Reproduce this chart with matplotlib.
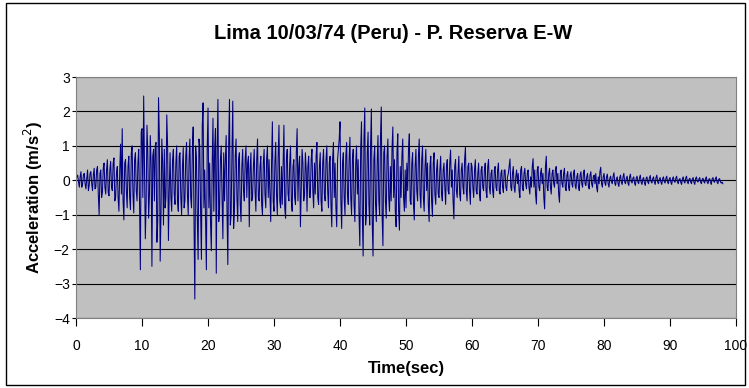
import numpy as np
import matplotlib.pyplot as plt
from matplotlib.patches import Rectangle

plt.rcParams['font.family'] = ['Liberation Sans', 'DejaVu Sans']

dt = 0.125  # sec between samples

# acceleration (m/s2) at whole quarter seconds, read in 5 s blocks
acc_00 = [0.0, 0.15, -0.2, 0.25, -0.1, 0.2, -0.25, 0.3, -0.15, 0.25,
          -0.3, 0.35, -0.2, 0.4, -1.0, 0.3, -0.35, 0.5, -0.4, 0.6]
acc_05 = [-0.45, 0.55, -0.3, 0.65, -0.5, 0.4, -0.9, 1.05, 1.5, -1.15,
          0.6, -0.8, 0.7, -0.85, 1.0, -0.95, 0.8, -0.6, 0.9, -2.6]
acc_10 = [1.5, 2.45, -1.7, 1.6, -1.1, 1.3, -2.5, 0.9, 1.0, -1.8,
          2.4, -2.35, 1.2, -1.3, -0.8, 1.9, -1.75, 0.8, -0.9, 0.9]
acc_15 = [-0.7, 1.0, -0.9, 0.8, -1.0, 0.95, -0.6, 1.1, -1.0, 1.2,
          -0.8, 1.55, -3.45, 0.6, -2.3, 1.0, -2.3, 2.25, 0.3, -2.6]
acc_20 = [2.1, 0.5, -2.05, 1.8, 0.9, -2.7, 2.35, -0.8, 1.0, -1.7,
          -0.6, 1.3, -2.45, 2.35, -1.0, 2.3, -0.9, 1.2, -1.2, 0.8]
acc_25 = [-1.2, 0.9, -0.6, 1.0, 0.5, -1.35, 0.8, -0.5, 0.9, -0.9,
          1.2, -0.6, 0.7, -1.0, 0.9, -0.8, 1.0, 0.6, -1.2, 1.7]
acc_30 = [-0.9, 1.1, -1.0, 1.6, -0.8, -0.7, 1.6, -1.1, 0.9, -0.6,
          1.0, -0.9, 0.6, -0.7, 1.5, 0.4, -1.35, 0.9, -0.6, 0.8]
acc_35 = [-0.9, 0.7, -0.5, 0.9, -0.8, -0.4, 1.1, -0.7, 0.8, -0.9,
          0.9, -0.6, 1.0, -0.8, 0.7, -1.35, 1.1, 0.5, -1.35, 0.9]
acc_40 = [1.7, -1.4, 0.8, -1.0, 1.1, -0.7, 1.25, -1.0, 0.9, -1.2,
          1.0, 0.6, -1.9, 1.7, -2.2, 2.1, -1.0, 1.4, -1.3, 2.07]
acc_45 = [-2.2, 1.0, -1.2, 1.3, -1.0, 2.13, -1.9, 1.0, -1.1, 1.2,
          -0.9, -0.6, 1.55, 0.6, -1.35, 1.35, -1.45, -0.5, 1.2, -0.9]
acc_50 = [-0.8, -0.3, 1.35, -0.7, 0.8, -1.15, 0.9, -0.6, 1.2, -0.8,
          1.0, -0.9, 0.9, 0.5, -1.2, 0.7, -1.05, 0.8, -0.7, 0.6]
acc_55 = [-0.5, 0.7, -0.6, 0.5, -0.7, 0.6, -0.4, 0.88, 0.3, -1.12,
          0.6, -0.5, 0.7, -0.6, 0.5, -0.4, 0.96, -0.6, 0.5, -0.7]
acc_60 = [0.4, -0.5, 0.6, -0.4, 0.5, -0.6, 0.4, -0.3, 0.5, -0.5,
          0.6, -0.4, 0.3, -0.5, 0.4, -0.3, 0.5, -0.4, 0.3, -0.35]
acc_65 = [0.3, -0.3, 0.2, 0.62, -0.3, 0.4, -0.35, 0.3, 0.2, -0.5,
          0.4, -0.3, 0.35, -0.25, 0.3, -0.4, -0.2, 0.63, 0.3, -0.69]
acc_70 = [0.4, -0.3, 0.35, 0.2, -0.83, 0.7, -0.3, 0.35, -0.4, 0.3,
          -0.2, 0.4, 0.2, -0.64, 0.3, -0.2, 0.35, -0.3, 0.25, -0.3]
acc_75 = [0.25, -0.2, 0.3, -0.25, 0.2, -0.3, 0.25, -0.2, 0.3, -0.15,
          0.2, -0.25, 0.25, -0.2, 0.15, 0.2, -0.34, -0.1, 0.38, -0.2]
acc_80 = [0.2, -0.15, 0.18, -0.2, 0.12, -0.1, 0.22, -0.15, 0.1, -0.18,
          0.15, -0.12, 0.2, -0.1, 0.12, -0.15, 0.18, -0.08, 0.1, -0.15]
acc_85 = [0.12, -0.1, 0.15, -0.12, 0.08, -0.15, 0.1, -0.1, 0.14, -0.08,
          0.1, -0.12, 0.15, -0.1, 0.08, -0.12, 0.1, -0.08, 0.12, -0.1]
acc_90 = [0.08, -0.12, 0.1, -0.06, 0.12, -0.1, 0.05, -0.12, 0.1, -0.08,
          0.12, -0.1, 0.06, -0.1, 0.08, -0.12, 0.1, -0.05, 0.08, -0.1]
acc_95 = [0.06, -0.08, 0.1, -0.1, 0.05, -0.12, 0.08, -0.06, 0.1, -0.1,
          0.05, -0.08, -0.1]

# values in between (t + 0.125 s)
mid_00 = [0.1, -0.05, 0.1, -0.2, 0.15, -0.1, 0.05, -0.3, 0.2, -0.1,
          0.15, -0.25, 0.3, -0.4, 0.2, -0.5, 0.35, -0.2, 0.3, -0.35]
mid_05 = [0.3, -0.2, 0.5, -0.6, 0.2, -0.5, 0.3, -0.4, -0.6, 0.5,
          -0.3, 0.4, -0.5, 0.8, -0.4, 0.6, -0.3, 0.5, -0.7, 1.4]
mid_10 = [-0.5, 0.3, -0.6, 0.8, -0.4, 0.5, 0.7, -0.6, 1.1, -1.2,
          1.3, -1.0, 0.5, 0.9, -0.5, 1.0, -0.3, -0.5, 0.6, -0.4]
mid_15 = [0.5, -0.6, 0.7, -0.5, 0.4, -0.8, 0.7, -0.4, 0.6, -0.5,
          0.9, -1.2, 1.0, -1.1, 1.2, -0.9, 1.6, -0.8, -1.2, 0.9]
mid_20 = [-0.8, -1.2, 0.4, -0.9, 1.5, 0.9, -1.2, 0.6, -0.5, 0.8,
          0.6, -0.9, 1.0, -1.3, 0.8, -1.4, 0.7, -0.5, 0.6, -0.7]
mid_25 = [0.4, -0.3, 0.6, -0.5, 0.7, 0.3, -0.6, 0.4, -0.3, 0.6,
          -0.5, 0.4, -0.7, 0.5, -0.4, 0.6, -0.5, -0.4, 0.5, -0.6]
mid_30 = [0.5, -0.4, 0.7, -0.6, 0.4, 0.5, -0.8, 0.6, -0.4, 0.5,
          -0.6, 0.4, -0.5, 0.8, -0.6, 0.7, -0.3, 0.5, -0.4, 0.3]
mid_35 = [0.4, -0.5, 0.6, -0.3, 0.5, 0.7, -0.5, 0.4, -0.6, 0.5,
          -0.4, 0.6, -0.3, 0.5, -0.7, 0.6, -0.5, -0.8, 0.6, 1.2]
mid_40 = [-0.6, 0.5, -0.5, 0.7, -0.4, 0.6, -0.5, 0.6, -0.7, 0.5,
          -0.4, -1.0, 0.9, -1.0, 1.2, -1.3, 0.8, -0.7, 1.0, -1.2]
mid_45 = [0.6, -0.7, 0.5, -0.6, 1.2, -1.0, 0.8, -0.6, 0.7, -0.5,
          0.4, 0.9, -0.5, -0.9, 0.8, -0.9, 0.4, 0.7, -0.5, 0.3]
mid_50 = [0.5, 0.9, -0.6, 0.5, -0.7, 0.4, -0.3, 0.7, -0.4, 0.6,
          -0.5, 0.4, -0.3, -0.7, 0.4, -0.6, 0.5, -0.4, 0.3, -0.4]
mid_55 = [0.3, -0.4, 0.3, -0.2, 0.4, -0.3, 0.5, -0.2, -0.6, 0.4,
          -0.3, 0.2, -0.4, 0.3, -0.2, 0.6, -0.3, 0.4, -0.3, 0.5]
mid_60 = [-0.2, 0.3, -0.3, 0.2, -0.4, 0.3, -0.2, 0.3, -0.3, 0.4,
          -0.2, 0.2, -0.3, 0.3, -0.2, 0.3, -0.3, 0.2, -0.2, 0.3]
mid_65 = [-0.2, 0.1, 0.4, -0.2, 0.2, -0.2, 0.1, -0.1, -0.3, 0.3,
          -0.2, 0.2, -0.1, 0.2, -0.2, 0.1, 0.4, -0.2, -0.4, 0.3]
mid_70 = [-0.2, 0.2, -0.1, -0.5, 0.4, -0.2, 0.2, -0.2, 0.2, -0.1,
          0.3, -0.1, -0.4, 0.2, -0.1, 0.2, -0.2, 0.15, -0.2, 0.15]
mid_75 = [-0.1, 0.2, -0.15, 0.1, -0.2, 0.15, -0.1, 0.2, -0.1, 0.1,
          -0.15, 0.15, -0.1, 0.1, -0.1, -0.2, 0.1, 0.25, -0.1, 0.1]
mid_80 = [-0.08, 0.1, -0.1, 0.06, -0.05, 0.12, -0.08, 0.05, -0.1, 0.08,
          -0.06, 0.1, -0.05, 0.06, -0.08, 0.1, -0.04, 0.06, -0.08, 0.06]
mid_85 = [-0.05, 0.08, -0.06, 0.04, -0.08, 0.06, -0.05, 0.07, -0.04, 0.05,
          -0.06, 0.08, -0.05, 0.04, -0.06, 0.05, -0.04, 0.06, -0.05, 0.04]
mid_90 = [-0.06, 0.05, -0.03, 0.06, -0.05, 0.03, -0.06, 0.05, -0.04, 0.06,
          -0.05, 0.03, -0.05, 0.04, -0.06, 0.05, -0.03, 0.04, -0.05, 0.03]
mid_95 = [-0.04, 0.05, -0.05, 0.03, -0.06, 0.04, -0.03, 0.05, -0.05, 0.03,
          -0.04, -0.05]

main = (acc_00 + acc_05 + acc_10 + acc_15 + acc_20 + acc_25 + acc_30 + acc_35
        + acc_40 + acc_45 + acc_50 + acc_55 + acc_60 + acc_65 + acc_70 + acc_75
        + acc_80 + acc_85 + acc_90 + acc_95)
mid = (mid_00 + mid_05 + mid_10 + mid_15 + mid_20 + mid_25 + mid_30 + mid_35
       + mid_40 + mid_45 + mid_50 + mid_55 + mid_60 + mid_65 + mid_70 + mid_75
       + mid_80 + mid_85 + mid_90 + mid_95)

acc = np.empty(len(main) + len(mid))
acc[0::2] = main
acc[1::2] = mid
t = np.arange(len(acc)) * dt

fig = plt.figure(figsize=(7.49, 3.88), dpi=100)
ax = fig.add_axes([0.1015, 0.1804, 0.8812, 0.6211])

ax.set_facecolor('#C0C0C0')
ax.plot(t, acc, color='#000080', lw=0.75)

ax.set_xlim(0, 100)
ax.set_ylim(-4, 3)
ax.set_xticks(range(0, 101, 10))
ax.set_yticks(range(-4, 4))
ax.yaxis.grid(True, color='black', lw=0.8)
ax.set_axisbelow(True)
for s in ax.spines.values():
    s.set_color('#808080')
ax.tick_params(labelsize=10, color='black', width=0.8)
ax.tick_params(axis='x', length=6, pad=9)
ax.tick_params(axis='y', length=3, pad=1.5)

fig.text(0.525, 0.913, 'Lima 10/03/74 (Peru) - P. Reserva E-W', fontsize=14.5,
         fontweight='bold', ha='center', va='center')
ax.set_xlabel('Time(sec)', fontsize=12, fontweight='bold', labelpad=6)
ax.set_ylabel('Acceleration (m/s$^2$)', fontsize=12, fontweight='bold', labelpad=6)

fig.patches.append(Rectangle((0.008, 0.008), 0.987, 0.985, transform=fig.transFigure,
                             fill=False, edgecolor='black', lw=1))

fig.savefig('out.png', dpi=100)
